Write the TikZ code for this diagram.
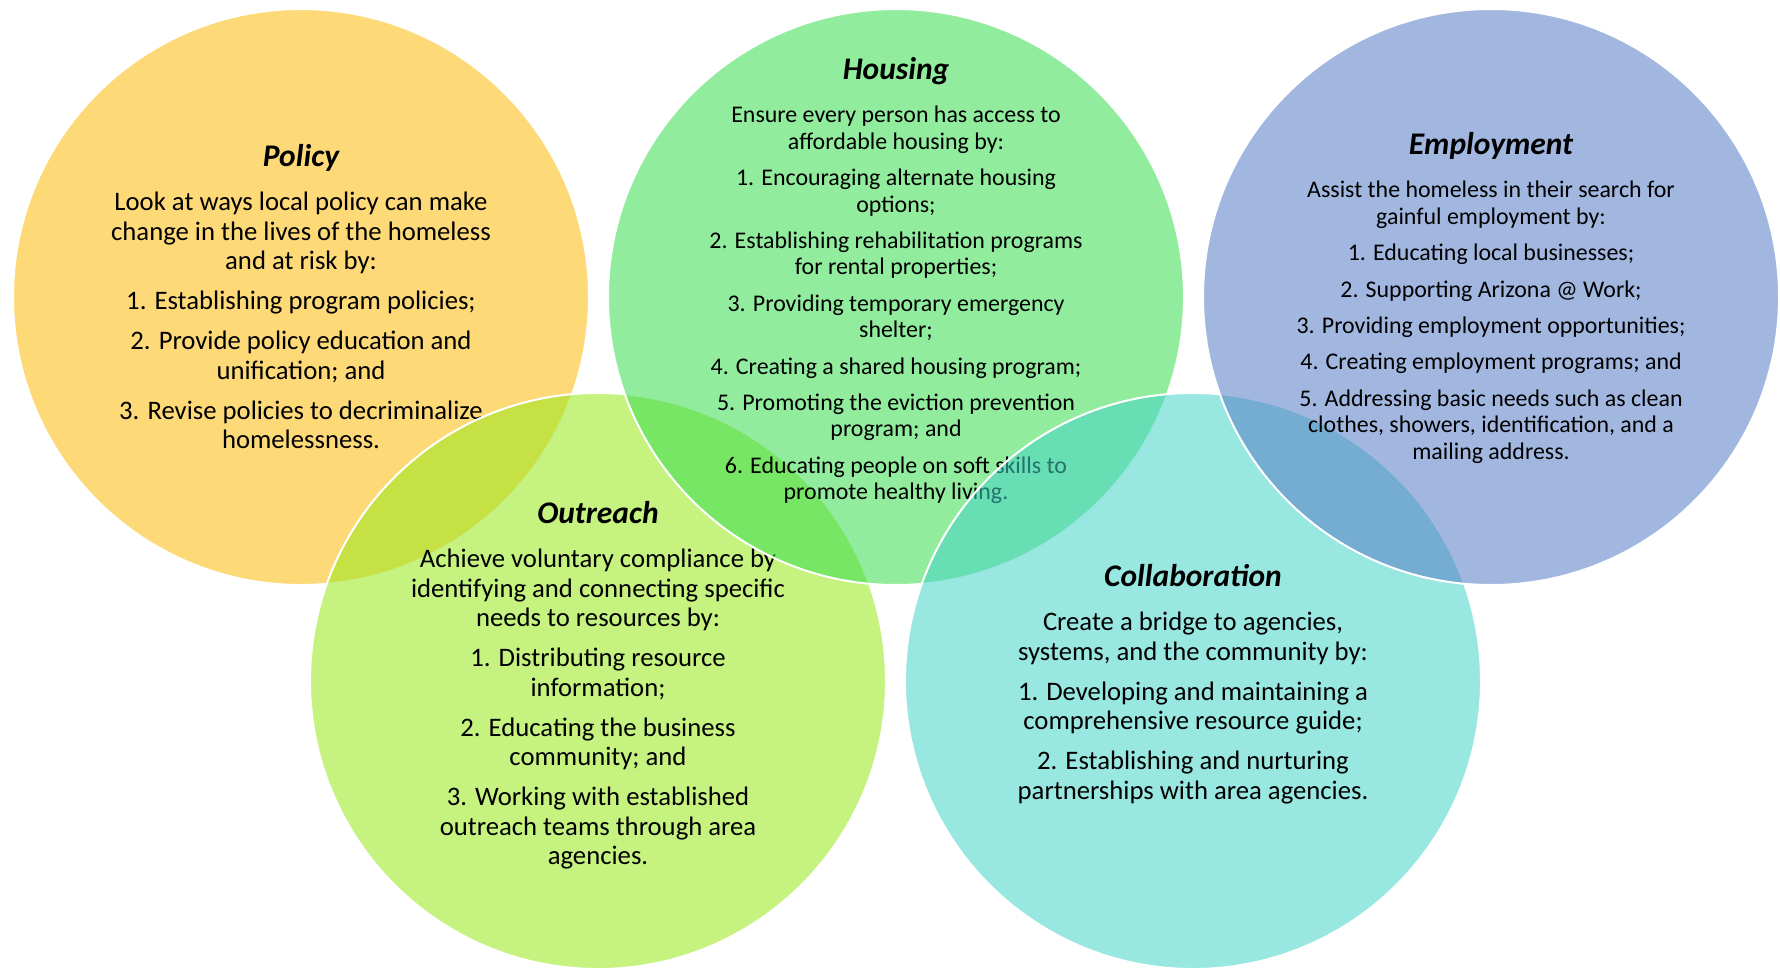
\documentclass[tikz,border=0pt]{standalone}
\usepackage{fontspec}
\setmainfont{Carlito}
\usepackage{tikz}

\definecolor{policyfill}{RGB}{251,186,10}
\definecolor{housingfill}{RGB}{57,220,79}
\definecolor{employfill}{RGB}{86,124,199}
\definecolor{outreachfill}{RGB}{151,231,24}
\definecolor{collabfill}{RGB}{68,211,199}

\newcommand{\bigtext}{\fontsize{13.35}{14.75}\selectfont}
\newcommand{\smalltext}{\fontsize{11.95}{13.2}\selectfont}
\newcommand{\headline}[1]{{\fontsize{15.75}{15.75}\selectfont\bfseries\itshape #1}}

\begin{document}
\begin{tikzpicture}[x=0.5pt,y=-0.5pt]
\tikzset{ring/.style = {shape=circle,draw=white,line width=1pt,minimum size=288pt,inner sep=0pt,fill opacity=0.55,draw opacity=1}}
\tikzset{blurb/.style = {anchor=north,align=center,inner sep=0pt,font=\bigtext}}
\tikzset{smallblurb/.style = {blurb,font=\smalltext}}
\useasboundingbox (0,0) rectangle (1780,969);
% policy
\node[ring,fill=policyfill] (policy) at (301,297) {};
\node[blurb] (policy-txt) at (301,144) {\headline{Policy}\\[7.25pt]
  Look at ways local policy can make\\
  change in the lives of the homeless\\
  and at risk by:\\[5.25pt]
  1. Establishing program policies;\\[5.25pt]
  2. Provide policy education and\\
  unification; and\\[5.25pt]
  3. Revise policies to decriminalize\\
  homelessness.};
% outreach
\node[ring,fill=outreachfill] (outreach) at (598,681) {};
\node[blurb] (outreach-txt) at (598,501) {\headline{Outreach}\\[7.25pt]
  Achieve voluntary compliance by\\
  identifying and connecting specific\\
  needs to resources by:\\[5.25pt]
  1. Distributing resource\\
  information;\\[5.25pt]
  2. Educating the business\\
  community; and\\[5.25pt]
  3. Working with established\\
  outreach teams through area\\
  agencies.};
% housing
\node[ring,fill=housingfill] (housing) at (896,297) {};
\node[smallblurb] (housing-txt) at (896,57) {\headline{Housing}\\[8.5pt]
  Ensure every person has access to\\
  affordable housing by:\\[5pt]
  1. Encouraging alternate housing\\
  options;\\[5pt]
  2. Establishing rehabilitation programs\\
  for rental properties;\\[5pt]
  3. Providing temporary emergency\\
  shelter;\\[5pt]
  4. Creating a shared housing program;\\[5pt]
  5. Promoting the eviction prevention\\
  program; and\\[5pt]
  6. Educating people on soft skills to\\
  promote healthy living.};
% collaboration
\node[ring,fill=collabfill] (collab) at (1193,681) {};
\node[blurb] (collab-txt) at (1193,564) {\headline{Collaboration}\\[7.25pt]
  Create a bridge to agencies,\\
  systems, and the community by:\\[5.25pt]
  1. Developing and maintaining a\\
  comprehensive resource guide;\\[5.25pt]
  2. Establishing and nurturing\\
  partnerships with area agencies.};
% employment
\node[ring,fill=employfill] (employ) at (1491,297) {};
\node[smallblurb] (employ-txt) at (1491,132) {\headline{Employment}\\[8.5pt]
  Assist the homeless in their search for\\
  gainful employment by:\\[5pt]
  1. Educating local businesses;\\[5pt]
  2. Supporting Arizona @ Work;\\[5pt]
  3. Providing employment opportunities;\\[5pt]
  4. Creating employment programs; and\\[5pt]
  5. Addressing basic needs such as clean\\
  clothes, showers, identification, and a\\
  mailing address.};
\end{tikzpicture}
\end{document}
